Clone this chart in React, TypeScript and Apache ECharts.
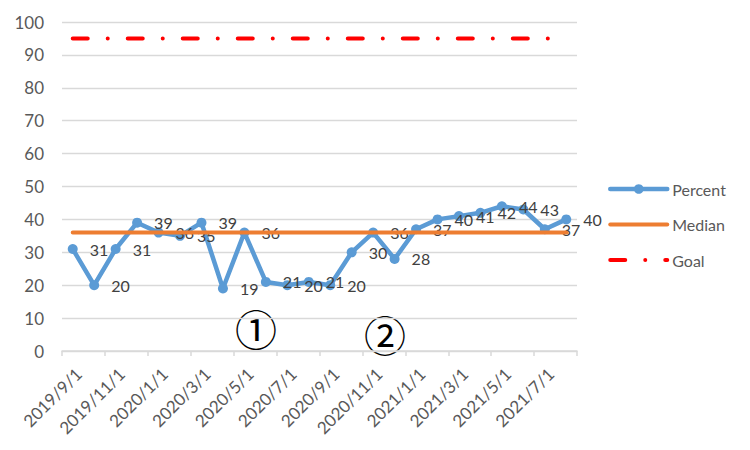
import React, { useEffect, useRef } from "react";
import * as echarts from "echarts";

const months = [
  "2019/9/1", "2019/10/1", "2019/11/1", "2019/12/1",
  "2020/1/1", "2020/2/1", "2020/3/1", "2020/4/1",
  "2020/5/1", "2020/6/1", "2020/7/1", "2020/8/1",
  "2020/9/1", "2020/10/1", "2020/11/1", "2020/12/1",
  "2021/1/1", "2021/2/1", "2021/3/1", "2021/4/1",
  "2021/5/1", "2021/6/1", "2021/7/1", "2021/8/1",
];
const percent = [31, 20, 31, 39, 36, 35, 39, 19, 36, 21, 20, 21, 20, 30, 36, 28, 37, 40, 41, 42, 44, 43, 37, 40];
const medianValue = 36;
const goalValue = 95;
const median = months.map(() => medianValue);
const goal = months.map(() => goalValue);
const yTicks = { min: 0, max: 100, interval: 10 };
const annotations = [
  { text: "①", x: 256, y: 327 },
  { text: "②", x: 385, y: 333 },
];

const FONT = "Lato, 'Liberation Sans', Arial, sans-serif";

export default function App() {
  const ref = useRef<HTMLDivElement>(null);
  useEffect(() => {
    if (!ref.current) return;
    document.body.style.margin = "0";
    const chart = echarts.init(ref.current, undefined, { renderer: "svg" });
    const firstOnly = (vals: number[], color: string, offset: number[], distance: number) =>
      vals.map((v, i) =>
        i === 0
          ? {
              value: v,
              label: {
                show: true,
                position: "top",
                distance,
                offset,
                color,
                fontSize: 16,
                fontFamily: FONT,
              },
            }
          : v
      );
    chart.setOption({
      animation: false,
      textStyle: { fontFamily: FONT },
      grid: {
        left: 62,
        right: 173,
        top: 22,
        bottom: 99,
        containLabel: false,
        outerBoundsMode: "none",
      },
      legend: {
        orient: "vertical",
        left: 603,
        top: 176,
        itemWidth: 57,
        itemHeight: 12,
        itemGap: 19.5,
        lineStyle: { width: 4.5 },
        textStyle: { fontSize: 16, color: "#595959", fontFamily: FONT },
        data: [
          { name: "Percent" },
          { name: "Median", itemStyle: { opacity: 0 }, lineStyle: { width: 4 } },
          { name: "Goal", itemStyle: { opacity: 0 }, lineStyle: { width: 4 } },
        ],
      },
      xAxis: {
        type: "category",
        data: months,
        boundaryGap: true,
        axisLine: { show: true, lineStyle: { color: "#D9D9D9", width: 1.5 } },
        axisTick: { show: true, interval: 1, length: 5, lineStyle: { color: "#D9D9D9", width: 1.5 } },
        axisLabel: {
          interval: 1,
          rotate: 45,
          margin: 14,
          align: "right",
          verticalAlign: "top",
          fontSize: 17,
          color: "#595959",
          fontFamily: FONT,
        },
      },
      yAxis: {
        type: "value",
        min: yTicks.min,
        max: yTicks.max,
        interval: yTicks.interval,
        axisLine: { show: false },
        axisTick: { show: false },
        axisLabel: { fontSize: 17, color: "#595959", margin: 18, fontFamily: FONT },
        splitLine: { lineStyle: { color: "#D9D9D9", width: 1.3 } },
      },
      series: [
        {
          name: "Percent",
          type: "line",
          data: percent,
          symbol: "circle",
          symbolSize: 10,
          color: "#5B9BD5",
          lineStyle: { width: 4.5, color: "#5B9BD5", cap: "round", join: "round" },
          itemStyle: { color: "#5B9BD5" },
          label: {
            show: true,
            position: "right",
            distance: 12,
            color: "#404040",
            fontSize: 16,
            fontFamily: FONT,
          },
          z: 2,
        },
        {
          name: "Median",
          type: "line",
          data: firstOnly(median, "#FF0000", [4, 0], 6),
          symbol: "circle",
          symbolSize: 0,
          showSymbol: true,
          color: "#ED7D31",
          itemStyle: { opacity: 0 },
          lineStyle: { width: 4, color: "#ED7D31", cap: "round" },
          z: 3,
        },
        {
          name: "Goal",
          type: "line",
          data: firstOnly(goal, "#FF0000", [12, 0], 9),
          symbol: "circle",
          symbolSize: 0,
          showSymbol: true,
          color: "#FF0000",
          itemStyle: { opacity: 0 },
          lineStyle: { width: 4, color: "#FF0000", cap: "round", type: [15, 20, 0.01, 20] },
          z: 3,
        },
      ],
      graphic: annotations.map((a) => ({
        type: "text",
        x: a.x,
        y: a.y,
        style: {
          text: a.text,
          fontSize: 42,
          fontFamily: "'Noto Sans CJK JP', serif",
          fill: "#000000",
          align: "center",
          verticalAlign: "middle",
        },
      })),
    });
    return () => chart.dispose();
  }, []);
  return <div ref={ref} style={{ width: 750, height: 450 }} />;
}
